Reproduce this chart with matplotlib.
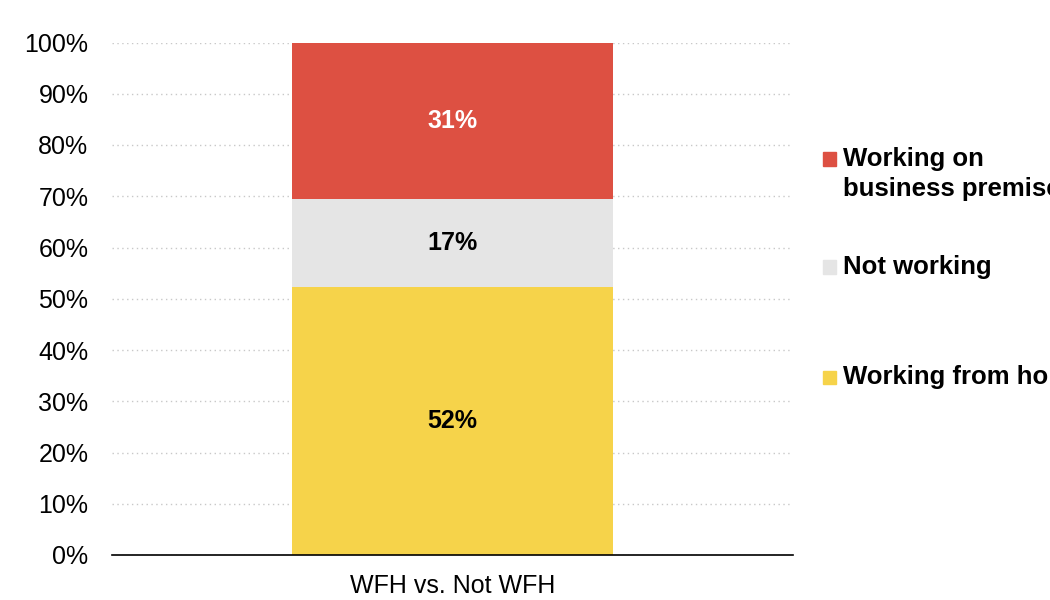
import matplotlib
matplotlib.use("Agg")
import matplotlib.pyplot as plt
from matplotlib.patches import Rectangle

plt.rcParams['font.family'] = ['Liberation Sans', 'DejaVu Sans']

categories = ["WFH vs. Not WFH"]
series_names = ["Working from home", "Not working", "Working on\nbusiness premises"]
series_values = [[52.3], [17.2], [30.5]]
value_labels = ["52%", "17%", "31%"]
colors = ["#F6D34A", "#E5E5E5", "#DD5042"]
label_colors = ["black", "black", "white"]
y_ticks = [0, 10, 20, 30, 40, 50, 60, 70, 80, 90, 100]
y_ticklabels = [f"{t}%" for t in y_ticks]

W, H = 1050, 600
fig = plt.figure(figsize=(10.5, 6), dpi=100)
ax = fig.add_axes([112 / W, 45 / H, (793 - 112) / W, (555 - 42.5) / H])

x = list(range(len(categories)))
bottom = [0.0] * len(categories)
for vals, col, lab, lcol in zip(series_values, colors, value_labels, label_colors):
    bars = ax.bar(x, vals, bottom=bottom, width=0.94, color=col, zorder=2)
    for b, v, bt in zip(bars, vals, bottom):
        ax.text(b.get_x() + b.get_width() / 2, bt + v / 2, lab, ha='center', va='center',
                fontsize=18, fontweight='bold', color=lcol, zorder=3)
    bottom = [b + v for b, v in zip(bottom, vals)]

ax.set_xlim(-1, 1)
ax.set_ylim(0, 100)
ax.set_yticks(y_ticks)
ax.set_yticklabels(y_ticklabels)
ax.set_xticks(x)
ax.set_xticklabels(categories)
ax.tick_params(axis='y', length=0, pad=17, labelsize=18)
ax.tick_params(axis='x', length=0, pad=14, labelsize=18)
ax.yaxis.grid(True, linestyle=(0, (1, 2.5)), color='#c8c8c8', linewidth=1, zorder=0)
ax.set_axisbelow(True)
for s in ['left', 'right', 'top']:
    ax.spines[s].set_visible(False)
ax.spines['bottom'].set_color('black')
ax.spines['bottom'].set_linewidth(1.2)

# legend (manual, top to bottom: red, gray, yellow)
legend_items = [(series_names[2], colors[2], 174), (series_names[1], colors[1], 267), (series_names[0], colors[0], 377)]
for name, col, yc in legend_items:
    sq_y = (yc - 15) if "\n" in name else yc
    fig.add_artist(Rectangle(((823) / W, 1 - (sq_y + 6.5) / H), 13 / W, 13 / H,
                             transform=fig.transFigure, color=col))
    fig.text(843 / W, 1 - yc / H, name, ha='left', va='center', fontsize=18.5,
             fontweight='bold', linespacing=1.3)

fig.savefig("out.png", dpi=100)
